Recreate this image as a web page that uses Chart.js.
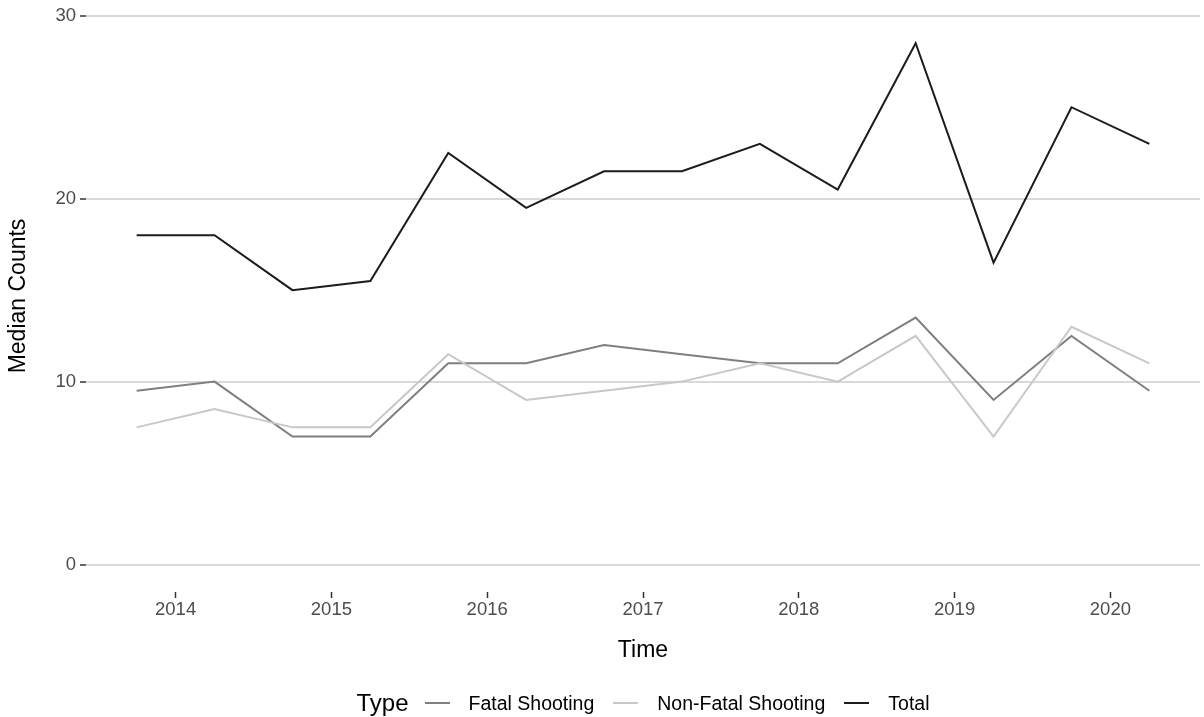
<!DOCTYPE html>
<html lang="en">
<head>
    <meta charset="UTF-8">
    <title>Median Counts over Time</title>
    <script src="https://cdn.jsdelivr.net/npm/chart.js"></script>
    <style>
        * {
            margin: 0;
            padding: 0;
            box-sizing: border-box;
        }

        body {
            background: #fff;
            font-family: "Liberation Sans", Arial, sans-serif;
            width: 1204px;
            height: 717px;
            overflow: hidden;
            position: relative;
        }

        #chart {
            position: absolute;
            left: 0;
            top: 0;
        }

        .legend {
            position: absolute;
            left: 86px;
            width: 1114px;
            top: 688px;
            height: 30px;
            display: flex;
            justify-content: center;
            align-items: center;
            color: #000;
        }

        .legend .title {
            font-size: 24px;
            margin-right: 16px;
        }

        .legend .key {
            display: inline-block;
            width: 25px;
            height: 2px;
            margin-right: 19px;
        }

        .legend .label {
            font-size: 19.5px;
            margin-right: 19px;
        }

        .legend .label:last-child {
            margin-right: 0;
        }
    </style>
</head>
<body>
    <canvas id="chart" width="1204" height="717"></canvas>
    <div class="legend" id="legend"></div>

    <script>
        // half-year medians, plotted mid-period
        const times = [2013.75, 2014.25, 2014.75, 2015.25, 2015.75, 2016.25, 2016.75,
                       2017.25, 2017.75, 2018.25, 2018.75, 2019.25, 2019.75, 2020.25];
        const fatal = [9.5, 10, 7, 7, 11, 11, 12, 11.5, 11, 11, 13.5, 9, 12.5, 9.5];
        const nonFatal = [7.5, 8.5, 7.5, 7.5, 11.5, 9, 9.5, 10, 11, 10, 12.5, 7, 13, 11];
        const total = [18, 18, 15, 15.5, 22.5, 19.5, 21.5, 21.5, 23, 20.5, 28.5, 16.5, 25, 23];

        const yearTicks = [2014, 2015, 2016, 2017, 2018, 2019, 2020];
        const countTicks = [0, 10, 20, 30];

        const seriesNames = ['Fatal Shooting', 'Non-Fatal Shooting', 'Total'];
        const seriesColors = ['#7f7f7f', '#c8c8c8', '#1c1c1c'];

        function toPoints(values) {
            return times.map((t, i) => ({ x: t, y: values[i] }));
        }

        const allSeries = [fatal, nonFatal, total];
        const datasets = allSeries.map((vals, i) => ({
            label: seriesNames[i],
            data: toPoints(vals),
            borderColor: seriesColors[i],
            backgroundColor: seriesColors[i],
            borderWidth: 2,
            pointRadius: 0,
            tension: 0,
            fill: false,
            order: 3 - i   // Total on top like ggplot
        }));

        const tickFont = { family: '"Liberation Sans", Arial, sans-serif', size: 18.5 };
        const titleFont = { family: '"Liberation Sans", Arial, sans-serif', size: 23 };

        new Chart(document.getElementById('chart'), {
            type: 'line',
            data: { datasets: datasets },
            options: {
                responsive: false,
                devicePixelRatio: 1,
                animation: false,
                layout: { padding: { left: 0, right: 4, top: 0, bottom: 0 } },
                plugins: {
                    legend: { display: false },
                    tooltip: { enabled: false }
                },
                scales: {
                    x: {
                        type: 'linear',
                        min: 2013.425,
                        max: 2020.575,
                        afterBuildTicks: (scale) => {
                            scale.ticks = yearTicks.map(v => ({ value: v }));
                        },
                        afterFit: (scale) => {
                            scale.height = 125;
                            scale.paddingLeft = 0;
                            scale.paddingRight = 0;
                        },
                        border: { display: false },
                        grid: {
                            drawOnChartArea: false,
                            drawTicks: true,
                            tickLength: 6,
                            tickWidth: 1.5,
                            tickColor: '#333333'
                        },
                        ticks: {
                            color: '#4d4d4d',
                            font: tickFont,
                            padding: 1,
                            maxRotation: 0,
                            autoSkip: false,
                            callback: (v) => String(v)
                        },
                        title: {
                            display: true,
                            text: 'Time',
                            color: '#000',
                            font: titleFont,
                            padding: { top: 0, bottom: 53 }
                        }
                    },
                    y: {
                        type: 'linear',
                        min: -1.5,
                        max: 30.86,
                        afterBuildTicks: (scale) => {
                            scale.ticks = countTicks.map(v => ({ value: v }));
                        },
                        afterFit: (scale) => {
                            scale.width = 86;
                            // no extra room for the top label, the panel runs to the edge
                            scale.paddingTop = 0;
                            scale.paddingBottom = 0;
                        },
                        border: { display: false },
                        grid: {
                            color: '#d9d9d9',
                            lineWidth: 2,
                            drawTicks: true,
                            tickLength: 6,
                            tickWidth: 1.5,
                            tickColor: '#333333'
                        },
                        ticks: {
                            color: '#4d4d4d',
                            font: tickFont,
                            padding: 4,
                            callback: (v) => String(v)
                        },
                        title: {
                            display: true,
                            text: 'Median Counts',
                            color: '#000',
                            font: titleFont,
                            padding: { top: 5, bottom: 0 }
                        }
                    }
                }
            }
        });

        // legend laid out like ggplot's bottom legend: title inline with keys
        const legend = document.getElementById('legend');
        const title = document.createElement('span');
        title.className = 'title';
        title.textContent = 'Type';
        legend.appendChild(title);
        seriesNames.forEach((name, i) => {
            const key = document.createElement('span');
            key.className = 'key';
            key.style.background = seriesColors[i];
            const label = document.createElement('span');
            label.className = 'label';
            label.textContent = name;
            legend.appendChild(key);
            legend.appendChild(label);
        });
    </script>
</body>
</html>
